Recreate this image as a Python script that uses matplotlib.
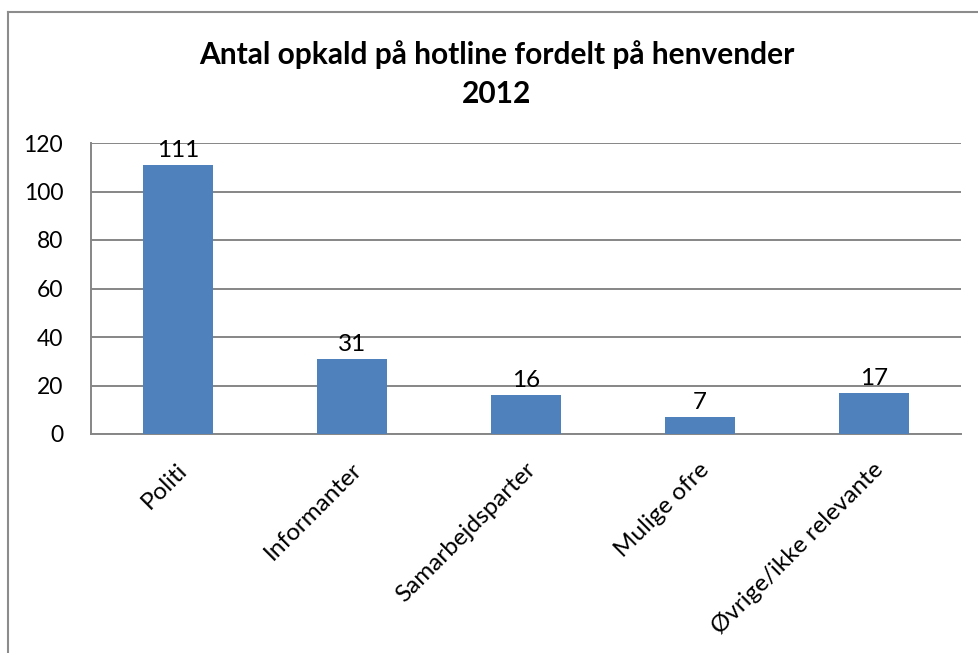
import matplotlib
matplotlib.use("Agg")
import matplotlib.pyplot as plt
from matplotlib.lines import Line2D

categories = ["Politi", "Informanter", "Samarbejdsparter", "Mulige ofre", "Øvrige/ikke relevante"]
values = [111, 31, 16, 7, 17]
yticks = [0, 20, 40, 60, 80, 100, 120]
title = "Antal opkald på hotline fordelt på henvender\n2012"

plt.rcParams['font.family'] = ['Lato', 'DejaVu Sans']

W, H = 979, 653
fig = plt.figure(figsize=(W / 100, H / 100), dpi=100)
ax = fig.add_axes([91 / W, 219 / H, (961 - 91) / W, (434 - 143) / H])

bar_color = "#4F81BD"
grid_color = "#868686"
x = list(range(len(categories)))
bars = ax.bar(x, values, width=0.4, color=bar_color, zorder=3)
ax.set_xlim(-0.5, len(categories) - 0.5)
ax.set_ylim(0, 120)
ax.set_yticks(yticks)
ax.set_yticklabels([str(v) for v in yticks], fontsize=16.5)
ax.yaxis.grid(True, color=grid_color, linewidth=1.4, zorder=0)
ax.set_axisbelow(True)
ax.tick_params(axis='both', length=0)
ax.tick_params(axis='y', pad=20)

for s in ["top", "right"]:
    ax.spines[s].set_visible(False)
for s in ["left", "bottom"]:
    ax.spines[s].set_color(grid_color)
    ax.spines[s].set_linewidth(1.4)

ax.set_xticks(x)
ax.set_xticklabels([])
for xi, cat in zip(x, categories):
    ax.annotate(cat, xy=(xi, 0), xycoords=('data', 'axes fraction'),
                xytext=(-1, -18), textcoords='offset points',
                rotation=45, rotation_mode='anchor', ha='right', va='top',
                fontsize=17.5)

for xi, v in zip(x, values):
    ax.annotate(str(v), xy=(xi, v), xytext=(0, 3), textcoords='offset points',
                ha='center', va='bottom', fontsize=17.5)

fig.text(497 / W, 1 - 74 / H, title, ha='center', va='center',
         fontsize=21.5, fontweight='bold', linespacing=1.5)

# outer chart frame (left and top edges visible)
fig.add_artist(Line2D([8 / W, 8 / W], [0, 1 - 12 / H], transform=fig.transFigure,
                      color="#8C8C8C", linewidth=1.5))
fig.add_artist(Line2D([8 / W, 1], [1 - 12 / H, 1 - 12 / H], transform=fig.transFigure,
                      color="#8C8C8C", linewidth=1.5))

fig.savefig("out.png", dpi=100)
